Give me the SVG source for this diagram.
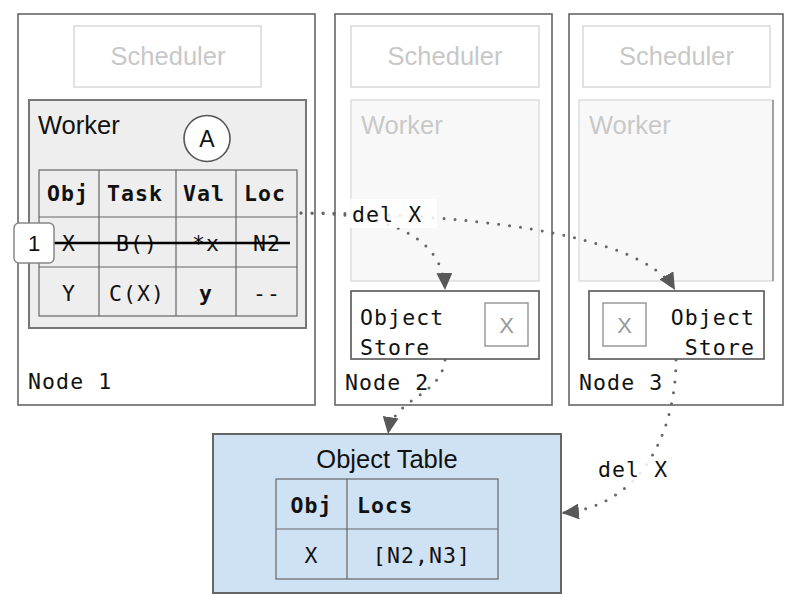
<svg xmlns="http://www.w3.org/2000/svg" width="800" height="605" viewBox="0 0 800 605">
  <defs>
    <style>
      .node { fill: #ffffff; stroke: #666666; stroke-width: 1.6; }
      .sched { fill: #ffffff; stroke: #d9d9d9; stroke-width: 1.5; }
      .sched-t { font-family: "Liberation Sans", Arial, sans-serif; font-size: 25.5px; fill: #c8c8c8; text-anchor: middle; }
      .worker-dim { fill: #f8f8f8; stroke: #dddddd; stroke-width: 1.5; }
      .worker-dim-t { font-family: "Liberation Sans", Arial, sans-serif; font-size: 25.5px; fill: #c8c8c8; }
      .worker { fill: #eeeeee; stroke: #777777; stroke-width: 2; }
      .sans { font-family: "Liberation Sans", Arial, sans-serif; fill: #111111; }
      .mono { font-family: "DejaVu Sans Mono", "Liberation Mono", monospace; font-size: 21.5px; letter-spacing: 1.1px; fill: #111111; }
      .b { font-weight: bold; }
      .mid { text-anchor: middle; }
      .end { text-anchor: end; }
      .grid { fill: none; stroke: #666666; stroke-width: 1.2; }
      .store { fill: #ffffff; stroke: #555555; stroke-width: 1.6; }
      .xbox { fill: #ffffff; stroke: #999999; stroke-width: 1.5; }
      .xbox-t { font-family: "Liberation Sans", Arial, sans-serif; font-size: 22px; fill: #999999; text-anchor: middle; }
      .link { fill: none; stroke: #666666; stroke-width: 3; stroke-linecap: round; stroke-dasharray: 0 11; }
    </style>
    <marker id="arrow" markerUnits="userSpaceOnUse" markerWidth="18" markerHeight="16" refX="17" refY="8" orient="auto">
      <path d="M0,0 L17,8 L0,16 z" fill="#595959"/>
    </marker>
  </defs>

  <!-- Node 1: scheduler, worker with ownership table -->
  <g id="node1">
    <rect class="node" x="18" y="14" width="297" height="391"/>
    <rect class="sched" x="74" y="26" width="187" height="61"/>
    <text class="sched-t" x="168" y="65">Scheduler</text>
    <g id="worker1">
      <rect class="worker" x="29" y="100" width="277" height="228"/>
      <text class="sans" x="38" y="134" font-size="25.5">Worker</text>
      <g id="task-a">
        <circle cx="207" cy="138.5" r="23" fill="#ffffff" stroke="#555555" stroke-width="1.6"/>
        <text class="sans mid" x="207" y="147" font-size="23">A</text>
      </g>
      <g id="ownership-table">
        <rect class="grid" x="39" y="170" width="258" height="146"/>
        <line class="grid" x1="99" y1="170" x2="99" y2="316"/>
        <line class="grid" x1="176" y1="170" x2="176" y2="316"/>
        <line class="grid" x1="236" y1="170" x2="236" y2="316"/>
        <line class="grid" x1="39" y1="217" x2="297" y2="217"/>
        <line class="grid" x1="39" y1="267" x2="297" y2="267"/>
        <text class="mono b mid" x="68" y="201">Obj</text>
        <text class="mono b mid" x="135" y="201">Task</text>
        <text class="mono b mid" x="204" y="201">Val</text>
        <text class="mono b mid" x="265" y="201">Loc</text>
        <text class="mono mid" x="69" y="251">X</text>
        <text class="mono mid" x="137" y="251">B()</text>
        <text class="mono mid" x="206" y="251">*x</text>
        <text class="mono mid" x="267" y="251">N2</text>
        <line x1="53" y1="243" x2="290" y2="243" stroke="#000000" stroke-width="2.5"/>
        <text class="mono mid" x="69" y="301">Y</text>
        <text class="mono mid" x="137" y="301">C(X)</text>
        <text class="mono b mid" x="206" y="301">y</text>
        <text class="mono mid" x="267" y="301">--</text>
      </g>
    </g>
    <g id="step1">
      <rect x="14" y="223" width="40" height="40" rx="5" fill="#ffffff" stroke="#888888" stroke-width="1.5"/>
      <text class="sans mid" x="34" y="251" font-size="22">1</text>
    </g>
    <text class="mono" x="28" y="389">Node 1</text>
  </g>

  <!-- Node 2 -->
  <g id="node2">
    <rect class="node" x="335" y="14" width="217" height="391"/>
    <rect class="sched" x="351" y="26" width="188" height="61"/>
    <text class="sched-t" x="445" y="65">Scheduler</text>
    <rect class="worker-dim" x="351" y="100" width="188" height="181"/>
    <text class="worker-dim-t" x="361" y="134">Worker</text>
    <g id="store2">
      <rect class="store" x="351" y="291" width="188" height="68"/>
      <text class="mono" x="360" y="325">Object</text>
      <text class="mono" x="360" y="355">Store</text>
      <rect class="xbox" x="485" y="303" width="43" height="43"/>
      <text class="xbox-t" x="506.5" y="332.5">X</text>
    </g>
    <text class="mono" x="345" y="390">Node 2</text>
  </g>

  <!-- Node 3 -->
  <g id="node3">
    <rect class="node" x="569" y="14" width="214" height="391"/>
    <rect class="sched" x="583" y="26" width="187" height="61"/>
    <text class="sched-t" x="676.5" y="65">Scheduler</text>
    <rect class="worker-dim" x="579" y="100" width="194" height="181"/>
    <line x1="773" y1="100" x2="773" y2="281" stroke="#777777" stroke-width="1.2"/>
    <text class="worker-dim-t" x="589" y="134">Worker</text>
    <g id="store3">
      <rect class="store" x="589" y="291" width="175" height="68"/>
      <text class="mono end" x="755" y="325">Object</text>
      <text class="mono end" x="755" y="355">Store</text>
      <rect class="xbox" x="603" y="303" width="43" height="43"/>
      <text class="xbox-t" x="624.5" y="332.5">X</text>
    </g>
    <text class="mono" x="579" y="390">Node 3</text>
  </g>

  <!-- Global object table -->
  <g id="object-table">
    <rect x="213" y="434" width="348" height="159" fill="#cfe2f3" stroke="#666666" stroke-width="2"/>
    <text class="sans mid" x="387" y="468" font-size="25.5">Object Table</text>
    <rect class="grid" x="276" y="479" width="222" height="100"/>
    <line class="grid" x1="347" y1="479" x2="347" y2="579"/>
    <line class="grid" x1="276" y1="529" x2="498" y2="529"/>
    <text class="mono b mid" x="311.5" y="513">Obj</text>
    <text class="mono b" x="357" y="513">Locs</text>
    <text class="mono mid" x="311.5" y="563">X</text>
    <text class="mono mid" x="422" y="563">[N2,N3]</text>
  </g>

  <!-- Connectors -->
  <g id="connectors">
    <path class="link" d="M301,213 C385,213 443,235 445,290" marker-end="url(#arrow)"/>
    <path class="link" d="M301,213 C450,213 640,230 675,290" marker-end="url(#arrow)"/>
    <path class="link" d="M445,360 C440,398 394,396 388,434" marker-end="url(#arrow)"/>
    <path class="link" d="M676,360 C676,420 650,505 562,513" marker-end="url(#arrow)"/>
    <g id="label-del-1">
      <rect x="350" y="199" width="87" height="29" fill="#ffffff" opacity="0.85"/>
      <text class="mono" x="352" y="222">del X</text>
    </g>
    <g id="label-del-2">
      <rect x="596" y="458" width="74" height="26" fill="#ffffff" opacity="0.85"/>
      <text class="mono" x="598" y="477">del X</text>
    </g>
  </g>
</svg>
